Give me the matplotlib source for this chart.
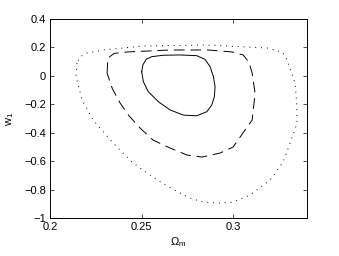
import numpy as np
import matplotlib
matplotlib.use('Agg')
import matplotlib.pyplot as plt

plt.rcParams['font.family'] = ['Liberation Sans', 'DejaVu Sans']

# contour outlines (closed loops)
om_1s = [0.2500, 0.2506, 0.2524, 0.2555, 0.2618, 0.2709, 0.2800, 0.2845, 0.2873,
         0.2891, 0.2900, 0.2896, 0.2882, 0.2855, 0.2800, 0.2727, 0.2655, 0.2591,
         0.2536, 0.2509, 0.2500]
w1_1s = [0.029, 0.076, 0.116, 0.135, 0.145, 0.147, 0.142, 0.116, 0.064,
         -0.006, -0.076, -0.147, -0.205, -0.252, -0.281, -0.276, -0.240, -0.182,
         -0.112, -0.041, 0.029]

om_2s = [0.2311, 0.2316, 0.2350, 0.2420, 0.2655, 0.2862, 0.2993, 0.3053, 0.3085,
         0.3102, 0.3118, 0.3110, 0.3102, 0.3075, 0.2998, 0.2927, 0.2829, 0.2747,
         0.2655, 0.2562, 0.2491, 0.2430, 0.2382, 0.2340, 0.2311]
w1_2s = [0.020, 0.126, 0.158, 0.168, 0.182, 0.182, 0.168, 0.147, 0.095,
         0.020, -0.121, -0.220, -0.311, -0.360, -0.501, -0.543, -0.571, -0.557,
         -0.508, -0.452, -0.367, -0.280, -0.191, -0.090, 0.020]

om_3s = [0.2147, 0.2142, 0.2175, 0.2235, 0.2344, 0.2447, 0.2529, 0.2611, 0.2698,
         0.2764, 0.2835, 0.2927, 0.2998, 0.3090, 0.3200, 0.3271, 0.3309, 0.3347,
         0.3345, 0.3336, 0.3298, 0.3285, 0.3265, 0.3184, 0.2856, 0.2507, 0.2289,
         0.2202, 0.2165, 0.2147]
w1_3s = [0.090, -0.008, -0.170, -0.311, -0.473, -0.606, -0.684, -0.754, -0.817,
         -0.860, -0.888, -0.895, -0.888, -0.839, -0.733, -0.606, -0.473, -0.332,
         -0.190, -0.050, 0.090, 0.135, 0.168, 0.196, 0.217, 0.210, 0.182,
         0.161, 0.135, 0.090]

xticks = [0.2, 0.25, 0.3]
yticks = [-1, -0.8, -0.6, -0.4, -0.2, 0, 0.2, 0.4]
ytick_labels = ['\u22121', '\u22120.8', '\u22120.6', '\u22120.4', '\u22120.2', '0', '0.2', '0.4']

fig = plt.figure(figsize=(3.39, 2.56), dpi=100)
ax = fig.add_axes([0.1475, 0.1484, 0.7575, 0.7774])

ax.plot(om_1s, w1_1s, color='k', lw=0.7)
ax.plot(om_2s, w1_2s, color='k', lw=0.7, linestyle=(0, (11, 6)))
ax.plot(om_3s, w1_3s, color='k', lw=0.7, linestyle=(0, (1, 5)))

ax.set_xlim(0.2, 0.34)
ax.set_ylim(-1, 0.4)
ax.set_xticks(xticks)
ax.set_xticklabels(['0.2', '0.25', '0.3'])
ax.set_yticks(yticks)
ax.set_yticklabels(ytick_labels)
ax.tick_params(direction='in', top=True, right=True, length=3, width=0.5,
               labelsize=8, pad=3)
for s in ax.spines.values():
    s.set_linewidth(0.7)

ax.set_xlabel(r'$\mathregular{\Omega_m}$', fontsize=8, labelpad=2)
ax.set_ylabel(r'$\mathregular{w_1}$', fontsize=8, labelpad=6)

fig.savefig('out.png', dpi=100)
